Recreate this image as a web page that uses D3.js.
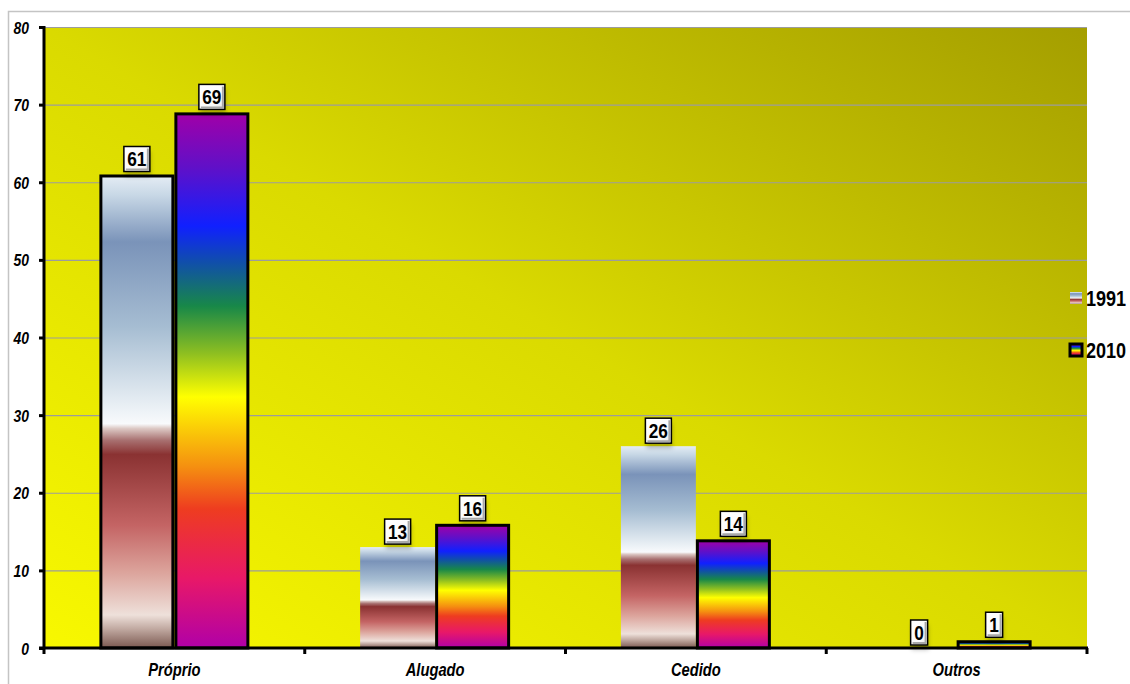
<!DOCTYPE html>
<html>
<head>
<meta charset="utf-8">
<script src="https://cdn.jsdelivr.net/npm/d3@7"></script>
<style>
  html, body { margin: 0; padding: 0; background: #ffffff; }
  svg { display: block; }
</style>
</head>
<body>
<svg id="chart" width="1130" height="684"></svg>
<script>
// Housing tenure (%) by census year
const categories = ["Próprio", "Alugado", "Cedido", "Outros"];
const seriesNames = ["1991", "2010"];
const values1991 = [61, 13, 26, 0];
const values2010 = [69, 16, 14, 1];
const yTicks = [0, 10, 20, 30, 40, 50, 60, 70, 80];

const svg = d3.select("#chart");
const W = 1130, H = 684;
const plot = { left: 44, top: 27, right: 1087, bottom: 648 };
const FONT = "'Liberation Sans', Arial, sans-serif";
const NARROW = 0.82; // horizontal squeeze giving a narrow face

const defs = svg.append("defs");

// plot background: yellow fading to olive toward the top right
const bg = defs.append("linearGradient").attr("id", "bgGrad")
  .attr("x1", 0).attr("y1", 1).attr("x2", 1).attr("y2", 0);
[["0%", "#f8f800"], ["50%", "#dada00"], ["100%", "#a49e00"]].forEach(([o, c]) =>
  bg.append("stop").attr("offset", o).attr("stop-color", c));

// 1991: steel blue / white / brick red preset fill
const g1991 = defs.append("linearGradient").attr("id", "grad1991")
  .attr("x1", 0).attr("y1", 0).attr("x2", 0).attr("y2", 1);
[["0%", "#e4ecf4"], ["4%", "#c8d8e6"], ["14%", "#7a93b9"], ["32%", "#a6bdd2"],
 ["50%", "#eef3f7"], ["52.5%", "#f8fafc"], ["53.5%", "#dcc8c4"], ["56%", "#a87070"],
 ["59%", "#8a3232"], ["74%", "#c46464"], ["84%", "#dca49c"], ["93%", "#eee0da"],
 ["96%", "#c0a8a0"], ["100%", "#7a5850"]].forEach(([o, c]) =>
  g1991.append("stop").attr("offset", o).attr("stop-color", c));

// 2010: rainbow preset fill
const g2010 = defs.append("linearGradient").attr("id", "grad2010")
  .attr("x1", 0).attr("y1", 0).attr("x2", 0).attr("y2", 1);
[["0%", "#a000a8"], ["10%", "#6010c8"], ["21%", "#1020ff"], ["28%", "#1050a8"],
 ["36%", "#188848"], ["45%", "#90c020"], ["53%", "#ffff00"], ["66%", "#f59010"],
 ["74%", "#ee3c20"], ["87%", "#e81868"], ["100%", "#b000a8"]].forEach(([o, c]) =>
  g2010.append("stop").attr("offset", o).attr("stop-color", c));

// label box bevel
const bevel = defs.append("linearGradient").attr("id", "bevel")
  .attr("x1", 0).attr("y1", 0).attr("x2", 1).attr("y2", 1);
[["0%", "#ffffff"], ["70%", "#fafafa"], ["100%", "#e0e0e0"]].forEach(([o, c]) =>
  bevel.append("stop").attr("offset", o).attr("stop-color", c));

const shadow = defs.append("filter").attr("id", "shadow")
  .attr("x", "-30%").attr("y", "-30%").attr("width", "160%").attr("height", "160%");
shadow.append("feGaussianBlur").attr("stdDeviation", 2);

// narrow text helper: squeezes glyphs horizontally around an anchor point
function narrowText(sel, x, yPos) {
  return sel.attr("x", 0).attr("y", 0)
    .attr("transform", `translate(${x},${yPos}) scale(${NARROW},1)`);
}

// outer chart frame
svg.append("path")
  .attr("d", `M8.5,${H} V11.5 H${W}`)
  .attr("fill", "none").attr("stroke", "#c4c4c4").attr("stroke-width", 1.5);

// scales
const x0 = d3.scaleBand().domain(categories).range([plot.left, plot.right]).padding(0);
const y = d3.scaleLinear().domain([0, 80]).range([plot.bottom, plot.top]);
const groupWidth = 150;
const x1 = d3.scaleBand().domain(seriesNames).range([0, groupWidth]).padding(0);

svg.append("rect")
  .attr("x", plot.left).attr("y", plot.top)
  .attr("width", plot.right - plot.left).attr("height", plot.bottom - plot.top)
  .attr("fill", "url(#bgGrad)");

// gridlines
svg.append("g").selectAll("line").data(yTicks.filter(d => d > 0)).join("line")
  .attr("x1", plot.left).attr("x2", plot.right)
  .attr("y1", d => y(d) + 0.5).attr("y2", d => y(d) + 0.5)
  .attr("stroke", "#9c9c9c").attr("stroke-width", 1.2);

// bars
const rows = categories.map((c, i) => ({ cat: c, vals: [values1991[i], values2010[i]] }));
const barG = svg.append("g");
rows.forEach((r, ci) => {
  const gx = x0(r.cat) + (x0.bandwidth() - groupWidth) / 2;
  r.vals.forEach((v, si) => {
    if (v <= 0) return;
    const s = seriesNames[si];
    const outlined = si === 1 || ci === 0;
    barG.append("rect")
      .attr("x", gx + x1(s) + (outlined ? 1.5 : 0))
      .attr("y", y(v) + (outlined ? 1.5 : 0))
      .attr("width", x1.bandwidth() - (outlined ? 3 : 0))
      .attr("height", y(0) - y(v) - (outlined ? 1.5 : 0))
      .attr("fill", si === 0 ? "url(#grad1991)" : "url(#grad2010)")
      .attr("stroke", outlined ? "#000" : "none")
      .attr("stroke-width", 3);
  });
});

// axes
const yAxis = d3.axisLeft(y).tickValues(yTicks).tickSize(5).tickPadding(9);
const yg = svg.append("g").attr("transform", `translate(${plot.left},0)`).call(yAxis);
yg.select(".domain").attr("stroke", "#000").attr("stroke-width", 3)
  .attr("d", `M0,${plot.top - 1}V${plot.bottom}`);
yg.selectAll(".tick line").attr("stroke", "#000").attr("stroke-width", 3);
yg.selectAll(".tick text").each(function () {
  const t = d3.select(this);
  narrowText(t, -15, 6)
    .attr("dy", null)
    .attr("font-family", FONT)
    .attr("font-size", 17).attr("font-weight", "bold").attr("font-style", "italic")
    .attr("fill", "#000");
});

const xAxis = d3.axisBottom(x0).tickSize(0).tickPadding(14);
const xg = svg.append("g").attr("transform", `translate(0,${plot.bottom})`).call(xAxis);
xg.select(".domain").attr("stroke", "#000").attr("stroke-width", 3)
  .attr("d", `M${plot.left - 5},0H${plot.right + 1}`);
xg.selectAll(".tick text").each(function () {
  const t = d3.select(this);
  narrowText(t, 0, 28)
    .attr("dy", null)
    .attr("font-family", FONT)
    .attr("font-size", 18).attr("font-weight", "bold").attr("font-style", "italic")
    .attr("fill", "#000");
});
// category separators
xg.append("g").selectAll("line")
  .data(categories.map(c => x0(c)).concat([plot.right])).join("line")
  .attr("x1", d => d).attr("x2", d => d).attr("y1", 0).attr("y2", 6)
  .attr("stroke", "#000").attr("stroke-width", 3);

// value labels
const lblG = svg.append("g");
rows.forEach((r) => {
  const gx = x0(r.cat) + (x0.bandwidth() - groupWidth) / 2;
  r.vals.forEach((v, si) => {
    const s = seriesNames[si];
    const cx = gx + x1(s) + x1.bandwidth() / 2;
    const t = String(v);
    const bw = 8 + t.length * 9;
    const bh = 25;
    const by = y(v) - 3 - bh;
    lblG.append("rect")
      .attr("x", cx - bw / 2 + 1).attr("y", by + 5)
      .attr("width", bw).attr("height", bh)
      .attr("fill", "rgba(0,0,0,0.22)").attr("filter", "url(#shadow)");
    lblG.append("rect")
      .attr("x", cx - bw / 2).attr("y", by)
      .attr("width", bw).attr("height", bh)
      .attr("fill", "url(#bevel)").attr("stroke", "#000").attr("stroke-width", 1.5);
    lblG.append("path")
      .attr("d", `M${cx + bw / 2 - 2},${by + 2} V${by + bh - 2} H${cx - bw / 2 + 2}`)
      .attr("fill", "none").attr("stroke", "#a8a8a8").attr("stroke-width", 2);
    narrowText(lblG.append("text"), cx, by + bh / 2 + 7.5)
      .attr("text-anchor", "middle")
      .attr("font-family", FONT).attr("font-weight", "bold").attr("font-size", 21)
      .attr("fill", "#000").text(t);
  });
});

// legend
const legend = svg.append("g");
const legendY = [298, 350];
seriesNames.forEach((s, i) => {
  const boxed = i === 1;
  legend.append("rect")
    .attr("x", 1070).attr("y", legendY[i] - 6)
    .attr("width", 12).attr("height", 12)
    .attr("fill", i === 0 ? "url(#grad1991)" : "url(#grad2010)")
    .attr("stroke", boxed ? "#000" : "none").attr("stroke-width", 3);
  narrowText(legend.append("text"), 1086, legendY[i] + 8)
    .attr("font-family", FONT).attr("font-weight", "bold").attr("font-size", 22)
    .attr("fill", "#000").text(s);
});
</script>
</body>
</html>
